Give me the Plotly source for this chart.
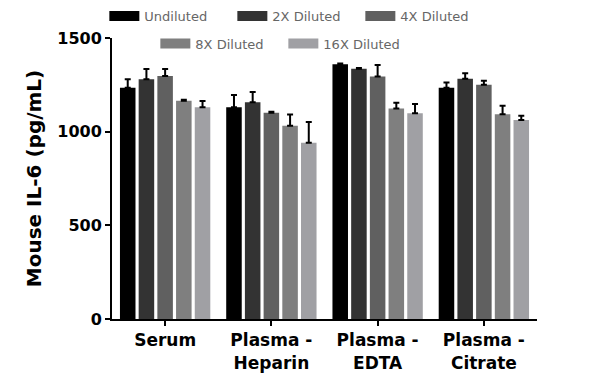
import plotly.graph_objects as go

categories = ["Serum", "Plasma -<br>Heparin", "Plasma -<br>EDTA", "Plasma -<br>Citrate"]
series_names = ["Undiluted", "2X Diluted", "4X Diluted", "8X Diluted", "16X Diluted"]
undiluted = [1235, 1130, 1360, 1235]
dil_2x = [1280, 1157, 1336, 1283]
dil_4x = [1297, 1101, 1294, 1251]
dil_8x = [1165, 1032, 1123, 1093]
dil_16x = [1130, 941, 1098, 1062]
err_undiluted = [45, 66, 4, 27]
err_2x = [55, 55, 4, 29]
err_4x = [38, 5, 62, 21]
err_8x = [5, 59, 32, 46]
err_16x = [34, 111, 50, 23]

values = [undiluted, dil_2x, dil_4x, dil_8x, dil_16x]
errors = [err_undiluted, err_2x, err_4x, err_8x, err_16x]
colors = ["#000000", "#333333", "#606060", "#7f7f7f", "#a0a0a4"]

fig = go.Figure()
for name, vals, errs, col in zip(series_names, values, errors, colors):
    fig.add_trace(go.Bar(
        x=categories, y=vals, name=name, marker=dict(color=col, line=dict(width=0)),
        error_y=dict(type="data", symmetric=False, array=errs, arrayminus=[0] * len(errs),
                     color="#000000", thickness=2, width=3),
        showlegend=False,
    ))

# legend entries (wide swatches)
for i, (name, col) in enumerate(zip(series_names, colors)):
    fig.add_trace(go.Scatter(
        x=[None], y=[None], mode="lines", name=name,
        line=dict(color=col, width=10),
        legend="legend" if i < 3 else "legend2",
    ))

legend_font = dict(family="DejaVu Sans", size=13, color="#666666")
fig.update_layout(
    width=592, height=375,
    margin=dict(l=104, r=63, t=30, b=64, autoexpand=False),
    paper_bgcolor="white", plot_bgcolor="white",
    barmode="group", bargap=0.12, bargroupgap=0.17,
    font=dict(family="DejaVu Sans", color="#000000"),
    legend=dict(orientation="h", x=-0.018, xanchor="left", y=1.078, yanchor="middle",
                entrywidth=83, entrywidthmode="pixels", font=legend_font,
                bgcolor="rgba(0,0,0,0)", itemwidth=30),
    legend2=dict(orientation="h", x=0.102, xanchor="left", y=0.98, yanchor="middle",
                 entrywidth=83, entrywidthmode="pixels", font=legend_font,
                 bgcolor="rgba(0,0,0,0)", itemwidth=30),
    xaxis=dict(
        showline=True, linecolor="#000000", linewidth=2, ticks="outside", ticklen=5,
        tickwidth=2, tickcolor="#000000", showgrid=False, zeroline=False,
        tickfont=dict(family="DejaVu Sans", size=17, color="#000000", weight="bold"),
        range=[-0.5, 3.5],
    ),
    yaxis=dict(
        showline=True, linecolor="#000000", linewidth=2, ticks="outside", ticklen=5,
        tickwidth=2, tickcolor="#000000", showgrid=False, zeroline=False,
        range=[0, 1500], tickvals=[0, 500, 1000, 1500],
        tickfont=dict(family="DejaVu Sans", size=16, color="#000000", weight="bold"),
        title=dict(text="Mouse IL-6 (pg/mL)", standoff=10,
                   font=dict(family="DejaVu Sans", size=20, color="#000000", weight="bold")),
    ),
)

fig.write_html("out.html")
